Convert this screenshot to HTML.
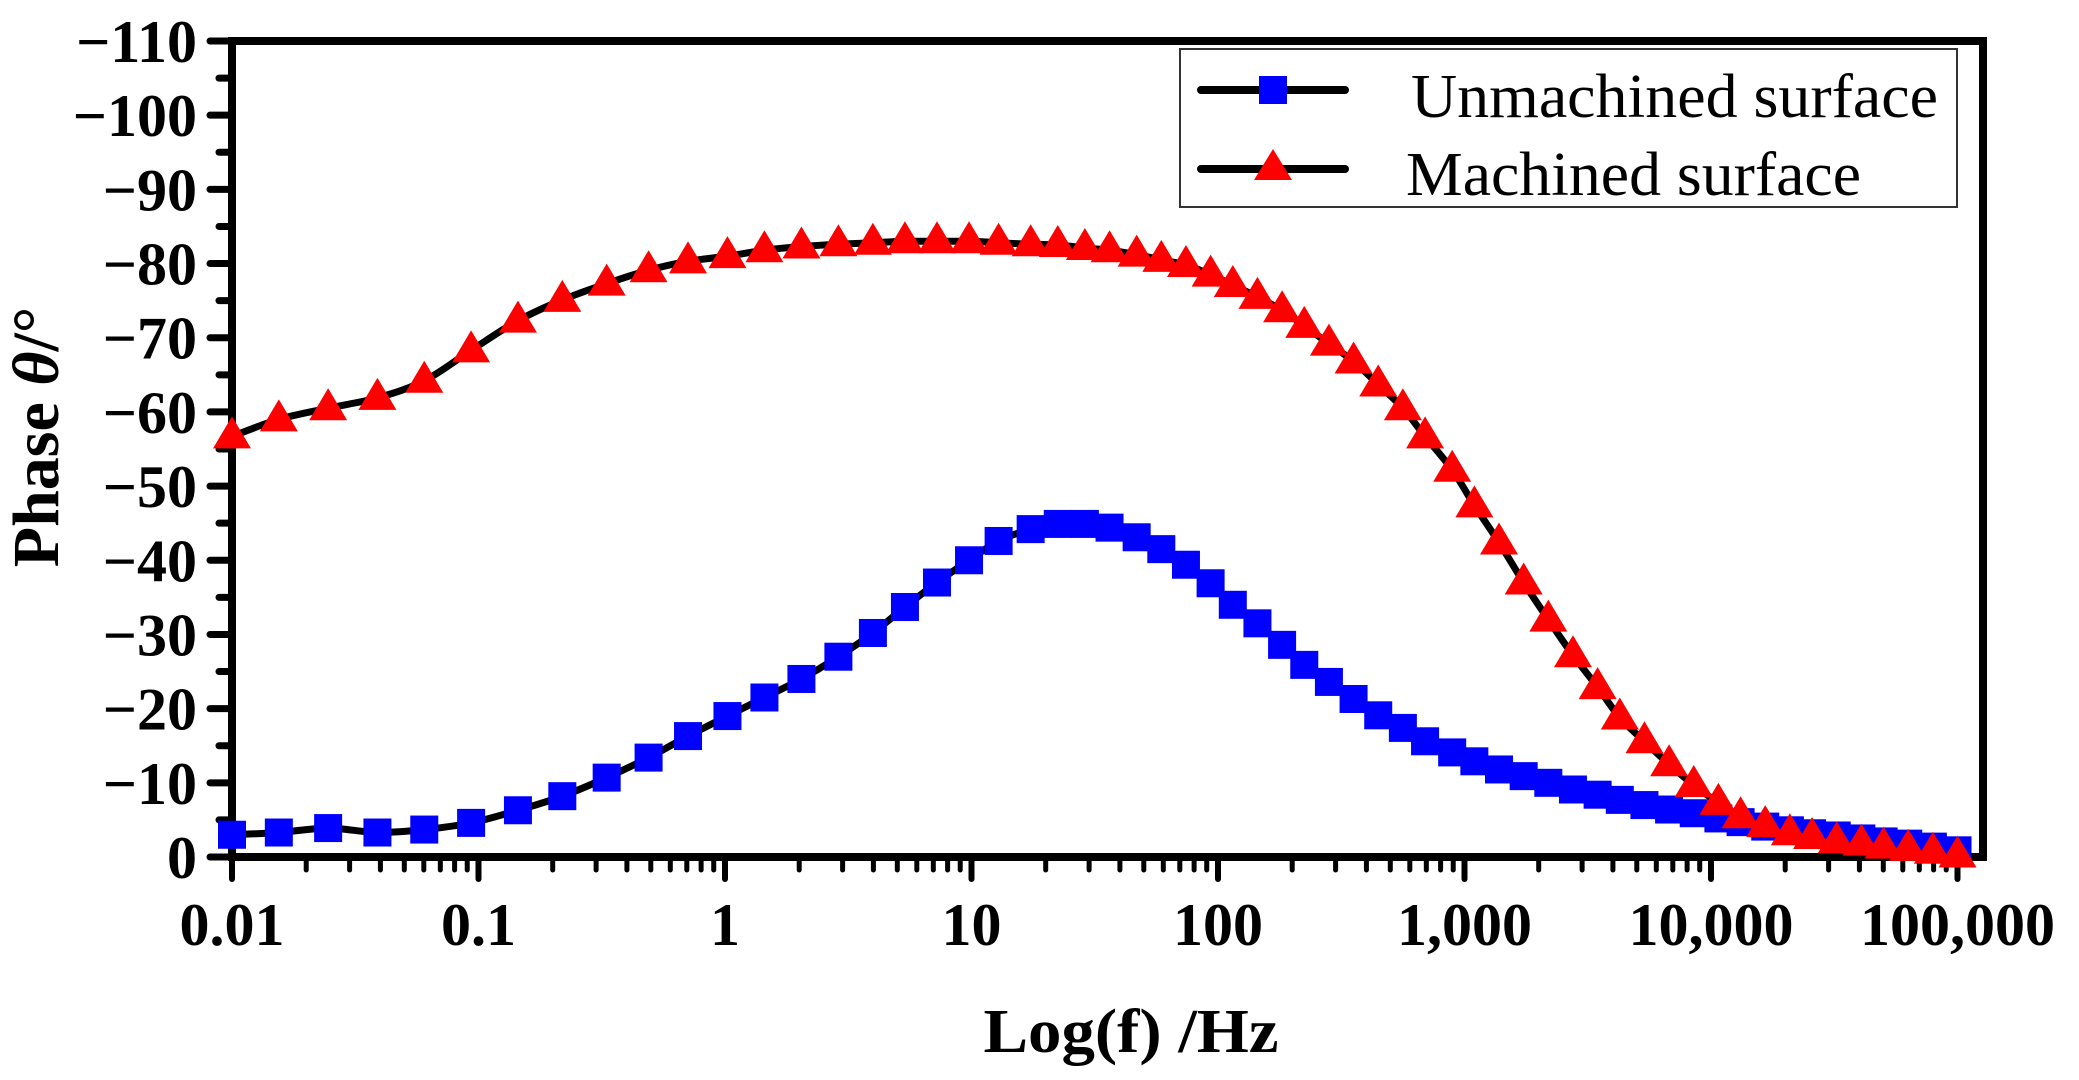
<!DOCTYPE html>
<html><head><meta charset="utf-8"><style>
html,body{margin:0;padding:0;background:#fff;}
svg{display:block;font-family:"Liberation Serif",serif;}
</style></head><body>
<svg id="chart" width="2079" height="1080" viewBox="0 0 2079 1080">
<g id="axes"></g>
<g id="series"></g>
<g>
  <rect x="1180" y="49" width="777" height="158" fill="#fff" stroke="#333" stroke-width="2"/>
  <g>
    <line x1="1201" y1="90" x2="1345" y2="90" stroke="#000" stroke-width="8" stroke-linecap="round"/>
    <rect x="1259" y="76" width="28" height="28" fill="#0000ff"/>
    <text x="1411" y="117" font-size="62" textLength="527" lengthAdjust="spacingAndGlyphs">Unmachined surface</text>
  </g>
  <g>
    <line x1="1201" y1="169" x2="1345" y2="169" stroke="#000" stroke-width="8" stroke-linecap="round"/>
    <polygon points="1273,149 1292,180 1254,180" fill="#ff0000"/>
    <text x="1406" y="195" font-size="62" textLength="455" lengthAdjust="spacingAndGlyphs">Machined surface</text>
  </g>
</g>
<text x="1131" y="1052" font-size="62" font-weight="bold" text-anchor="middle" textLength="295" lengthAdjust="spacingAndGlyphs">Log(f) /Hz</text>
<text transform="translate(58,437) rotate(-90)" font-size="66" font-weight="bold" text-anchor="middle">Phase <tspan font-style="italic">θ</tspan>/°</text>
</svg>
<script>
const logFreq = [-2,-1.81,-1.61,-1.41,-1.22,-1.03,-0.84,-0.66,-0.48,-0.31,-0.15,0.01,0.16,0.31,0.46,0.60,0.73,0.86,0.99,1.11,1.24,1.35,1.46,1.56,1.67,1.77,1.87,1.97,2.06,2.16,2.26,2.35,2.45,2.55,2.65,2.75,2.84,2.95,3.04,3.14,3.24,3.34,3.44,3.54,3.63,3.73,3.83,3.93,4.03,4.12,4.22,4.32,4.41,4.51,4.61,4.70,4.80,4.90,5.0];
const unmachined = [-3,-3.3,-3.9,-3.3,-3.7,-4.6,-6.3,-8.2,-10.7,-13.4,-16.3,-19,-21.5,-24,-27,-30.2,-33.7,-37,-40,-42.6,-44.2,-44.9,-44.9,-44.4,-43.1,-41.5,-39.4,-36.9,-34,-31.5,-28.6,-25.9,-23.6,-21.3,-19.1,-17.4,-15.6,-14.1,-12.9,-11.8,-10.9,-10,-9.1,-8.4,-7.7,-7,-6.4,-5.9,-5.2,-4.7,-4.1,-3.6,-3.2,-2.9,-2.5,-2.1,-1.8,-1.4,-0.9];
const machined = [-56.7,-59,-60.5,-61.9,-64.2,-68.3,-72.3,-75.1,-77.3,-79.1,-80.3,-81,-81.8,-82.3,-82.6,-82.8,-83,-83,-83,-82.8,-82.6,-82.5,-82.1,-81.8,-81.2,-80.5,-79.8,-78.5,-77.1,-75.5,-73.7,-71.6,-69.2,-66.8,-63.7,-60.5,-56.7,-52.2,-47.4,-42.4,-37,-32,-27.2,-22.9,-18.8,-15.6,-12.5,-9.7,-7.3,-5.5,-4.3,-3.2,-2.7,-2.1,-1.8,-1.4,-1.1,-0.7,-0.2];
const yTicks = [0,-10,-20,-30,-40,-50,-60,-70,-80,-90,-100,-110];
const xTickExps = [-2,-1,0,1,2,3,4,5];
const xTickLabels = ["0.01","0.1","1","10","100","1,000","10,000","100,000"];

const NS="http://www.w3.org/2000/svg";
const X0=232, DEC=246.5, XR=1983, Y0=857, YTOP=41;
const yUnit=(Y0-YTOP)/110;
function xs(lg){return X0+(lg+2)*DEC;}
function ys(v){return Y0+v*yUnit;}
function mk(tag,attrs,parent){const e=document.createElementNS(NS,tag);for(const k in attrs)e.setAttribute(k,attrs[k]);parent.appendChild(e);return e;}
const axes=document.getElementById('axes'), series=document.getElementById('series');

const fr=mk('rect',{x:X0,y:YTOP,width:XR-X0,height:Y0-YTOP,fill:'none',stroke:'#000','stroke-width':8},axes);



yTicks.forEach(v=>{
  const y=ys(v);
  const t=mk('line',{x1:X0-22,y1:y,x2:X0,y2:y,stroke:'#000','stroke-width':7,'stroke-linecap':'round'},axes);
  
  
  const lb=mk('text',{x:197,y:y+21,'font-size':60,'font-weight':'bold','text-anchor':'end'},axes);
  lb.textContent=v===0?'0':'\u2212'+Math.abs(v);
  
  
  if(v>-110){
    const m=ys(v-5);
    const mt=mk('line',{x1:X0-13,y1:m,x2:X0,y2:m,stroke:'#000','stroke-width':7,'stroke-linecap':'round'},axes);
    
    
  }
});
xTickExps.forEach((e,i)=>{
  const x=xs(e);
  const t=mk('line',{x1:x,y1:Y0,x2:x,y2:Y0+22,stroke:'#000','stroke-width':6,'stroke-linecap':'round'},axes);
  
  
  const lb=mk('text',{x:x,y:945,'font-size':60,'font-weight':'bold','text-anchor':'middle'},axes);
  lb.textContent=xTickLabels[i];
  
  
  for(let k=2;k<=9;k++){
    const mx=xs(e+Math.log10(k));
    if(mx>XR-4)break;
    const mt=mk('line',{x1:mx,y1:Y0,x2:mx,y2:Y0+13,stroke:'#000','stroke-width':5,'stroke-linecap':'round'},axes);
    
    
  }
});

function drawLine(vals,name){
  const pts=logFreq.map((l,i)=>[xs(l),ys(vals[i])]);
  let d='M'+pts[0][0]+','+pts[0][1];
  for(let i=0;i<pts.length-1;i++){
    const p0=pts[Math.max(0,i-1)],p1=pts[i],p2=pts[i+1],p3=pts[Math.min(pts.length-1,i+2)];
    const c1=[p1[0]+(p2[0]-p0[0])/6,p1[1]+(p2[1]-p0[1])/6];
    const c2=[p2[0]-(p3[0]-p1[0])/6,p2[1]-(p3[1]-p1[1])/6];
    d+=' C'+c1[0]+','+c1[1]+' '+c2[0]+','+c2[1]+' '+p2[0]+','+p2[1];
  }
  const p=mk('path',{d:d,fill:'none',stroke:'#000','stroke-width':7,'stroke-linejoin':'round'},series);
  
  
}
drawLine(unmachined,'unmachined-line');
drawLine(machined,'machined-line');
logFreq.forEach((l,i)=>{
  const x=xs(l),y=ys(unmachined[i]);
  const r=mk('rect',{x:x-14,y:y-14,width:28,height:28,fill:'#0000ff'},series);
  
  
});
logFreq.forEach((l,i)=>{
  const x=xs(l),y=ys(machined[i]);
  const t=mk('polygon',{points:(x)+','+(y-20)+' '+(x+19)+','+(y+12)+' '+(x-19)+','+(y+12),fill:'#ff0000'},series);
  
  
});
</script>
</body></html>
